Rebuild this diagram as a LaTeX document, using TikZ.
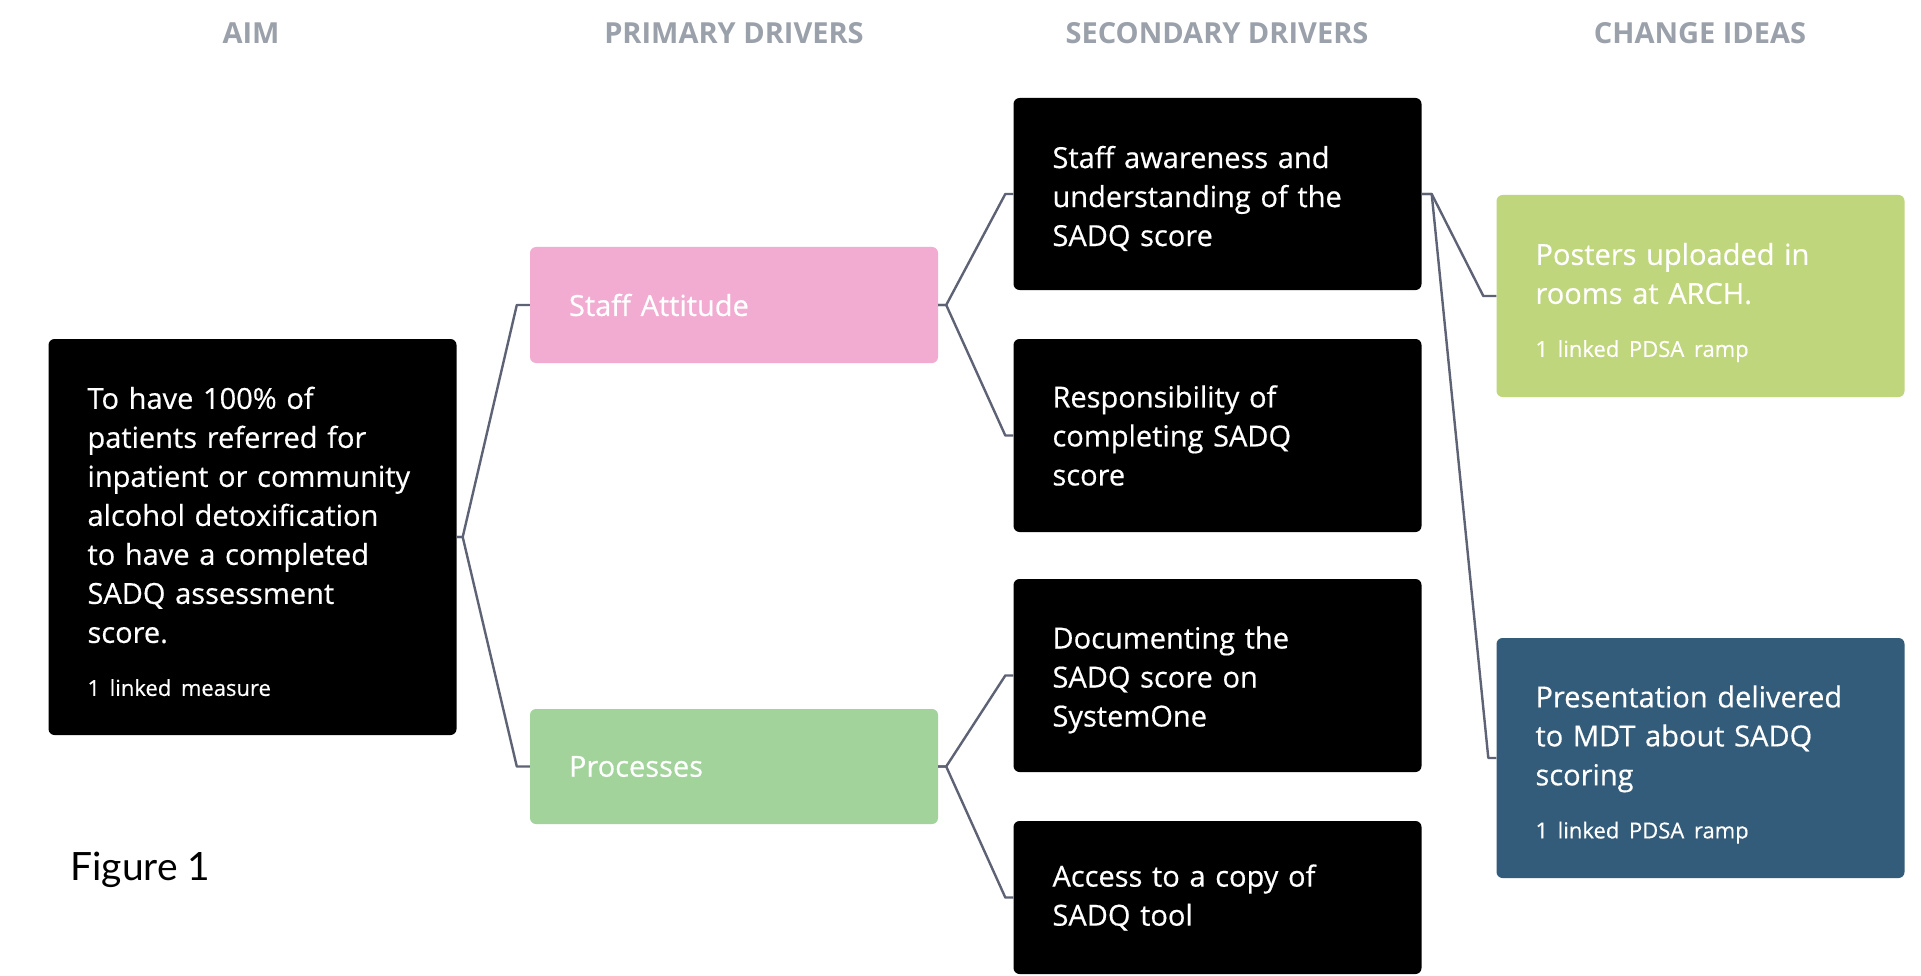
\documentclass[tikz,border=0pt]{standalone}
\usepackage{fontspec}
\setmainfont{Open Sans}
\newfontfamily\cardfont[FakeBold=0.5]{Open Sans}
\newfontfamily\headfont{Open Sans}
\newfontfamily\figfont{Lato}

\definecolor{linkgray}{HTML}{5E6275}
\definecolor{headgray}{HTML}{9BA1AA}
\definecolor{staffpink}{HTML}{F2ACD2}
\definecolor{procgreen}{HTML}{A1D39B}
\definecolor{ideagreen}{HTML}{C0D67D}
\definecolor{ideablue}{HTML}{335B7A}

\newcommand{\linkednote}[1]{\par\vspace{27pt}{\fontsize{22}{26}\selectfont\mbox{#1}\par}}
\newcommand{\cardtop}[1]{\par\vspace*{#1}\noindent}

\begin{document}
\begin{tikzpicture}[x=1pt, y=-1pt,
    card/.style={rounded corners=6pt, text=white, align=left, inner xsep=39pt, inner ysep=0pt,
        text width=330pt, font=\cardfont\fontsize{29}{39}\selectfont},
    head/.style={text=headgray, font=\headfont\bfseries\fontsize{29}{32}\selectfont},
    link/.style={draw=linkgray, line width=2.4pt, line join=round}]

    \fill[white] (0,0) rectangle (1921,976);
    \useasboundingbox (0,0) rectangle (1921,976);

    % column titles
    \node (hAim) [head] at (251,33) {AIM};
    \node (hPrim) [head] at (734,33) {PRIMARY DRIVERS};
    \node (hSec) [head] at (1217,33) {SECONDARY DRIVERS};
    \node (hIdea) [head] at (1700,33) {CHANGE IDEAS};

    % Aim
    \node (aim) [card, fill=black, minimum height=396pt] at (252.5,537)
        {\cardtop{-8pt}To have 100\% of\\ patients referred for\\ inpatient or community\\ alcohol detoxification\\ to have a completed\\ SADQ assessment\\ score.\linkednote{1 linked measure}};

    % Primary drivers
    \node (staff) [card, fill=staffpink, minimum height=116pt] at (734,305) {Staff Attitude};
    \node (proc) [card, fill=procgreen, minimum height=115pt] at (734,766.5) {Processes};

    % Secondary drivers
    \node (sec1) [card, fill=black, minimum height=192pt] at (1217.5,194)
        {\cardtop{-8pt}Staff awareness and\\ understanding of the\\ SADQ score};
    \node (sec2) [card, fill=black, minimum height=193pt] at (1217.5,435.5)
        {Responsibility of\\ completing SADQ\\ score};
    \node (sec3) [card, fill=black, minimum height=193pt] at (1217.5,675.5)
        {\cardtop{-8pt}Documenting the\\ SADQ score on\\ SystemOne};
    \node (sec4) [card, fill=black, minimum height=153pt] at (1217.5,897.5)
        {Access to a copy of\\ SADQ tool};

    % Change ideas
    \node (idea1) [card, fill=ideagreen, minimum height=202pt] at (1700.5,296)
        {\cardtop{-4pt}Posters uploaded in\\ rooms at ARCH.\linkednote{1 linked PDSA ramp}};
    \node (idea2) [card, fill=ideablue, minimum height=240pt] at (1700.5,758)
        {\cardtop{-4pt}Presentation delivered\\ to MDT about SADQ\\ scoring\linkednote{1 linked PDSA ramp}};

    % links
    \draw[link] (aim.east) -- ++(6,0) -- ([xshift=-13pt]staff.west) -- (staff.west);
    \draw[link] (aim.east) -- ++(6,0) -- ([xshift=-13pt]proc.west) -- (proc.west);
    \draw[link] (staff.east) -- ++(8,0) -- ([xshift=-8pt]sec1.west) -- (sec1.west);
    \draw[link] (staff.east) -- ++(8,0) -- ([xshift=-8pt]sec2.west) -- (sec2.west);
    \draw[link] (proc.east) -- ++(8,0) -- ([xshift=-8pt]sec3.west) -- (sec3.west);
    \draw[link] (proc.east) -- ++(8,0) -- ([xshift=-8pt]sec4.west) -- (sec4.west);
    \draw[link] (sec1.east) -- ++(10,0) -- ([xshift=-13pt]idea1.west) -- (idea1.west);
    \draw[link] (sec1.east) -- ++(10,0) -- ([xshift=-8pt]idea2.west) -- (idea2.west);

    \node (figlabel) [anchor=west, font=\figfont\fontsize{39}{44}\selectfont] at (67,870) {Figure 1};
\end{tikzpicture}
\end{document}
